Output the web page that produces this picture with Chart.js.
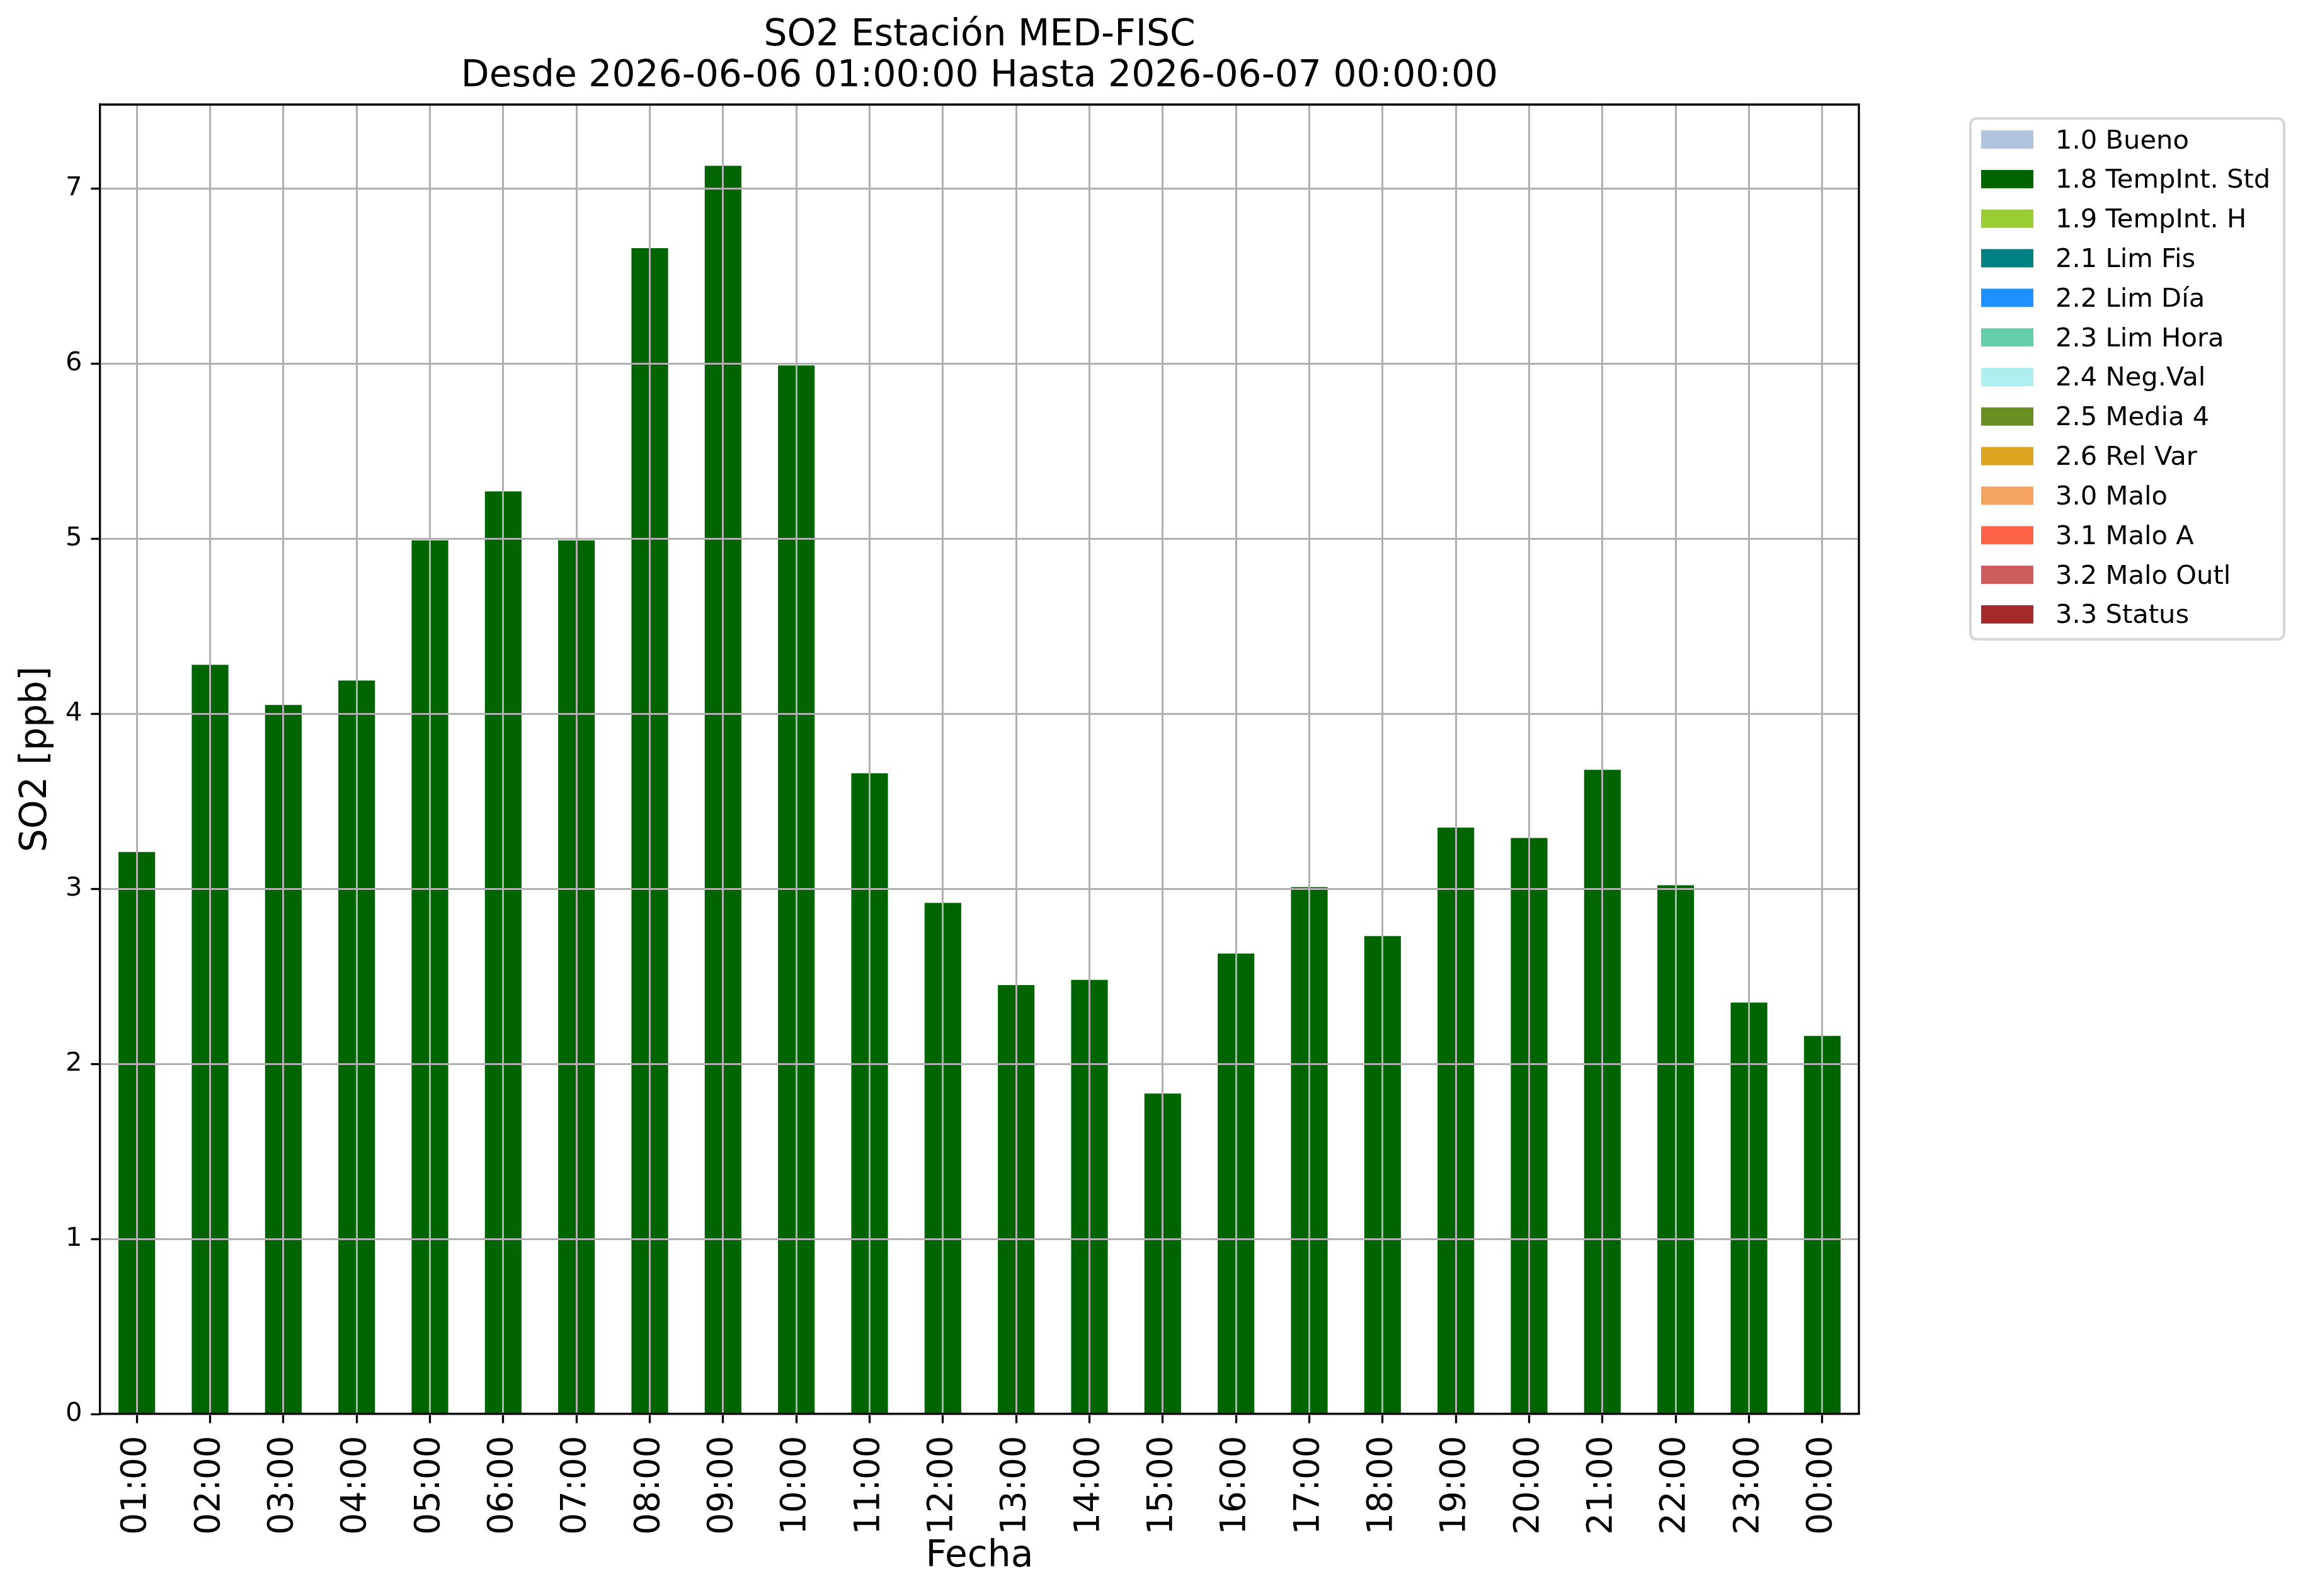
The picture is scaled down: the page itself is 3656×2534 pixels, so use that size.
<!DOCTYPE html>
<html>
<head>
<meta charset="utf-8">
<title>SO2 Estación MED-FISC</title>
<script src="https://cdn.jsdelivr.net/npm/chart.js@4.4.1/dist/chart.umd.min.js"></script>
<style>
  html, body { margin: 0; padding: 0; background: #ffffff; }
  #wrap { width: 3656px; height: 2534px; }
</style>
</head>
<body>
<div id="wrap"><canvas id="so2Chart" width="3656" height="2534"></canvas></div>
<script>
// horas (eje x)
const hours = ['01:00', '02:00', '03:00', '04:00', '05:00', '06:00', '07:00', '08:00',
               '09:00', '10:00', '11:00', '12:00', '13:00', '14:00', '15:00', '16:00',
               '17:00', '18:00', '19:00', '20:00', '21:00', '22:00', '23:00', '00:00'];

// SO2 [ppb] por hora, todas con flag 1.8 TempInt. Std
const so2Values = [3.21, 4.28, 4.05, 4.19, 4.99, 5.27, 4.99, 6.66,
                   7.13, 5.99, 3.66, 2.92, 2.45, 2.48, 1.83, 2.63,
                   3.01, 2.73, 3.35, 3.29, 3.68, 3.02, 2.35, 2.16];

// flags de validacion (leyenda)
const flagLabels = ['1.0 Bueno', '1.8 TempInt. Std', '1.9 TempInt. H', '2.1 Lim Fis',
                    '2.2 Lim Día', '2.3 Lim Hora', '2.4 Neg.Val', '2.5 Media 4',
                    '2.6 Rel Var', '3.0 Malo', '3.1 Malo A', '3.2 Malo Outl', '3.3 Status'];
const flagColors = ['#B0C4DE', '#006400', '#9ACD32', '#008080', '#1E90FF', '#66CDAA',
                    '#AFEEEE', '#6B8E23', '#DAA520', '#F4A460', '#FF6347', '#CD5C5C', '#A52A2A'];
const activeFlag = '1.8 TempInt. Std';

const yMax = 7.48;
const FONT = 'DejaVu Sans';

// Top and right spines (matplotlib box)
const frameSpines = {
    id: 'frameSpines',
    afterDraw(chart) {
        const { ctx, chartArea: a } = chart;
        ctx.save();
        ctx.strokeStyle = '#000';
        ctx.lineWidth = 3.3;
        ctx.beginPath();
        ctx.moveTo(a.left, a.top);
        ctx.lineTo(a.right, a.top);
        ctx.lineTo(a.right, a.bottom);
        ctx.stroke();
        ctx.restore();
    }
};

// Legend outside the axes, with rounded frame
const flagLegend = {
    id: 'flagLegend',
    afterDraw(chart) {
        const { ctx, chartArea: a } = chart;
        const x0 = a.right + 177;
        const y0 = a.top + 22;
        const rowH = 62.83;
        const fontPx = 41.67;
        ctx.save();
        ctx.beginPath();
        ctx.roundRect(x0, y0, 498, 827, 10);
        ctx.fillStyle = '#ffffff';
        ctx.fill();
        ctx.lineWidth = 4.2;
        ctx.strokeStyle = '#d6d6d6';
        ctx.stroke();
        ctx.font = fontPx + 'px "' + FONT + '"';
        ctx.textBaseline = 'alphabetic';
        ctx.textAlign = 'left';
        chart.data.datasets.forEach((ds, i) => {
            const top = y0 + 19 + i * rowH;
            ctx.fillStyle = ds.backgroundColor;
            ctx.fillRect(x0 + 17, top, 83, 29);
            ctx.fillStyle = '#000';
            ctx.fillText(ds.label, x0 + 135, top + 28.5);
        });
        ctx.restore();
    }
};

function createChart() {
    const datasets = flagLabels.map((label, i) => ({
        label: label,
        data: label === activeFlag ? so2Values : hours.map(() => null),
        backgroundColor: flagColors[i],
        borderWidth: 0,
        categoryPercentage: 1.0,
        barPercentage: 0.5
    }));

    new Chart(document.getElementById('so2Chart'), {
        type: 'bar',
        data: { labels: hours, datasets: datasets },
        options: {
            responsive: false,
            devicePixelRatio: 1,
            animation: false,
            layout: { padding: { left: 0, right: 705, top: 0, bottom: 0 } },
            plugins: {
                legend: { display: false },
                tooltip: { enabled: false },
                title: {
                    display: true,
                    fullSize: false,
                    text: ['SO2 Estación MED-FISC', 'Desde 2026-06-06 01:00:00 Hasta 2026-06-07 00:00:00'],
                    color: '#000',
                    font: { family: FONT, size: 58.3, weight: 'normal', lineHeight: 1.115 },
                    padding: { top: 24, bottom: 12 }
                }
            },
            scales: {
                x: {
                    stacked: true,
                    offset: true,
                    grid: {
                        z: 1,
                        offset: false,
                        color: '#b0b0b0',
                        lineWidth: 3,
                        tickColor: '#000',
                        tickWidth: 3.3,
                        tickLength: 14.6
                    },
                    border: { display: true, color: '#000', width: 3.3, z: 2 },
                    ticks: {
                        color: '#000',
                        font: { family: FONT, size: 54.5 },
                        minRotation: 90,
                        maxRotation: 90,
                        autoSkip: false,
                        padding: 20
                    },
                    title: {
                        display: true,
                        text: 'Fecha',
                        color: '#000',
                        font: { family: FONT, size: 58.3 },
                        padding: { top: 0, bottom: 27 }
                    },
                    afterFit(scale) { scale.height = 289; }
                },
                y: {
                    stacked: true,
                    min: 0,
                    max: yMax,
                    grid: {
                        z: 1,
                        color: '#b0b0b0',
                        lineWidth: 3,
                        tickColor: '#000',
                        tickWidth: 3.3,
                        tickLength: 14.6
                    },
                    border: { display: true, color: '#000', width: 3.3, z: 2 },
                    ticks: {
                        stepSize: 1,
                        color: '#000',
                        font: { family: FONT, size: 41.67 },
                        padding: 14
                    },
                    afterBuildTicks(scale) {
                        scale.ticks = scale.ticks.filter(t => Number.isInteger(t.value));
                    },
                    title: {
                        display: true,
                        text: 'SO2 [ppb]',
                        color: '#000',
                        font: { family: FONT, size: 58.3 },
                        padding: { top: 23, bottom: 0 }
                    },
                    afterFit(scale) { scale.width = 159; }
                }
            }
        },
        plugins: [frameSpines, flagLegend]
    });
}

createChart();
</script>
</body>
</html>
